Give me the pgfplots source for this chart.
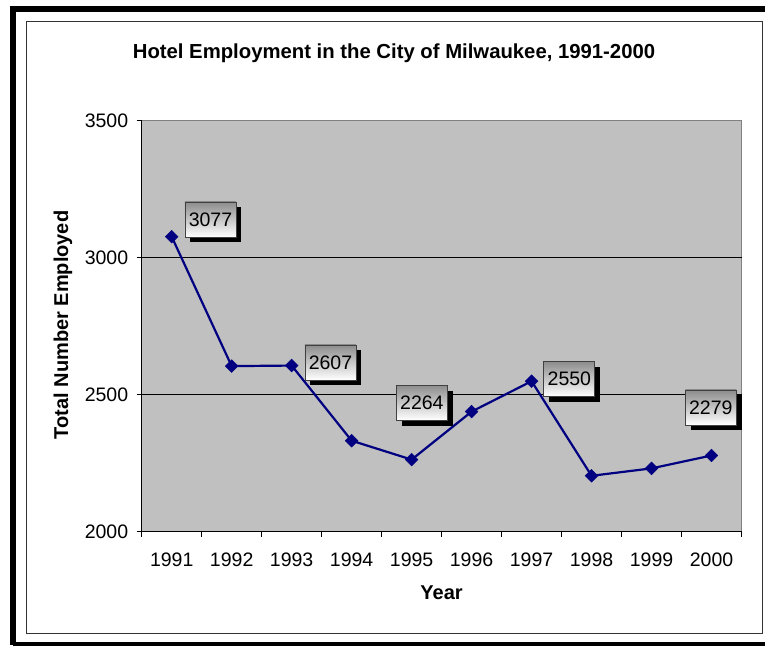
\documentclass[border=0pt]{standalone}
\usepackage{pgfplots}
\pgfplotsset{compat=1.18}
\usepackage{fontspec}
\setmainfont{Liberation Sans}
\usetikzlibrary{shadows}
\definecolor{plotgray}{HTML}{C0C0C0}
\definecolor{navy}{HTML}{000080}
\tikzset{
  dlabel/.style={draw=black!75, line width=0.8pt, top color=black!45, bottom color=white,
    minimum width=51pt, minimum height=35pt, inner sep=0pt,
    font=\fontsize{19.5}{22}\selectfont,
    drop shadow={shadow xshift=5.5pt, shadow yshift=-5.5pt, fill=black, opacity=1}}
}
\begin{document}
\begin{tikzpicture}[x=1pt,y=1pt]
\useasboundingbox (0,0) rectangle (765,645);
\draw[line width=6pt] (13,0) -- (13,636) -- (770,636);
\draw[line width=6pt] (13,0) -- (770,0);
\draw[black!80, line width=1pt] (26,12) rectangle (762,623);
\node[font=\bfseries\fontsize{20.3}{24}\selectfont] at (394,592) {Hotel Employment in the City of Milwaukee, 1991-2000};
\node[font=\bfseries\fontsize{20}{24}\selectfont, rotate=90] at (63,320) {Total Number Employed};
\node[font=\bfseries\fontsize{20}{24}\selectfont] at (441.6,52) {Year};
\begin{axis}[
  at={(141.7pt,113pt)}, anchor=south west,
  scale only axis, width=599.8pt, height=411.3pt,
  xmin=-0.5, xmax=9.5, ymin=2000, ymax=3500,
  axis background/.style={fill=plotgray, draw=gray, line width=1pt},
  axis x line*=bottom, axis y line*=left,
  axis line style={black, line width=1pt, -},
  tick align=outside,
  major tick length=5pt, minor tick length=5pt,
  tick style={black, line width=1pt},
  xtick={0,...,9},
  xticklabels={1991,1992,1993,1994,1995,1996,1997,1998,1999,2000},
  major x tick style={draw=none},
  minor xtick={-0.5,0.5,...,9.5},
  ytick={2000,2500,3000,3500},
  extra y ticks={2500,3000},
  extra y tick labels={},
  extra y tick style={grid=major, major tick length=0pt},
  grid style={black, line width=0.8pt},
  /pgf/number format/assume math mode=true,
  /pgf/number format/1000 sep={},
  ticklabel style={font=\fontsize{19.5}{22}\selectfont},
  yticklabel style={xshift=-5pt},
  xticklabel style={yshift=-12pt},
  clip=false,
]
\addplot[navy, line width=2.2pt, mark=square*, mark size=4.5pt,
  mark options={rotate=45, fill=navy, line width=0.5pt}]
  coordinates {(0,3077) (1,2605) (2,2607) (3,2333) (4,2264) (5,2439) (6,2550) (7,2205) (8,2232) (9,2279)};
\node[dlabel] at ([xshift=38.8pt, yshift=17.2pt]axis cs:0,3077) {3077};
\node[dlabel] at ([xshift=38.8pt, yshift=3.1pt]axis cs:2,2607) {2607};
\node[dlabel] at ([xshift=10.3pt, yshift=57.1pt]axis cs:4,2264) {2264};
\node[dlabel] at ([xshift=37.8pt, yshift=2.2pt]axis cs:6,2550) {2550};
\node[dlabel] at ([xshift=-0.7pt, yshift=48pt]axis cs:9,2279) {2279};
\end{axis}
\end{tikzpicture}
\end{document}
